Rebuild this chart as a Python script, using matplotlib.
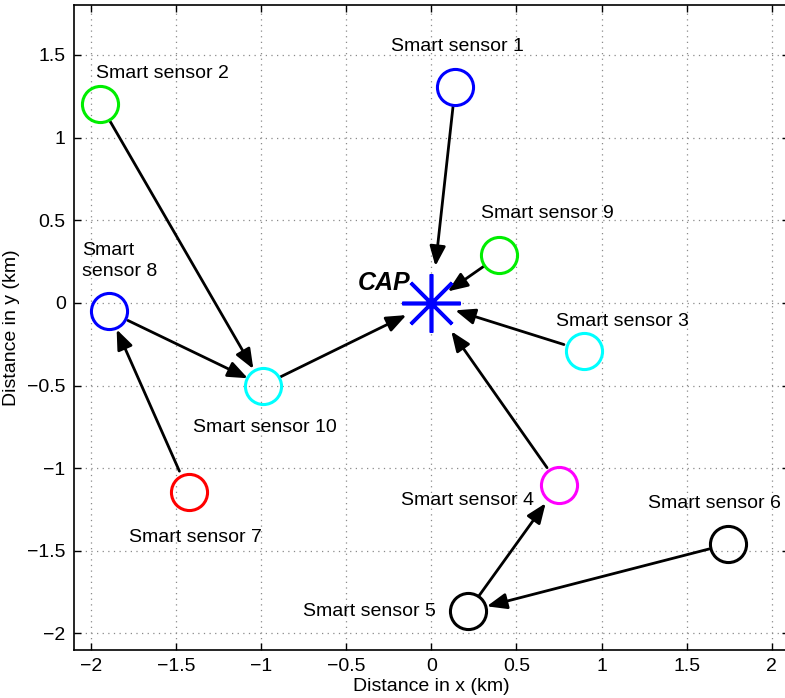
import matplotlib
matplotlib.use("Agg")
import matplotlib.pyplot as plt

# ---- data ----
sensor_names = ["Smart sensor 1", "Smart sensor 2", "Smart sensor 3", "Smart sensor 4",
                "Smart sensor 5", "Smart sensor 6", "Smart sensor 7", "Smart\nsensor 8",
                "Smart sensor 9", "Smart sensor 10"]
sensor_x = [0.14, -1.945, 0.896, 0.75, 0.215, 1.741, -1.426, -1.897, 0.40, -0.99]
sensor_y = [1.305, 1.20, -0.29, -1.10, -1.865, -1.46, -1.145, -0.05, 0.287, -0.50]
sensor_colors = ["#0000ff", "#00ee00", "#00ffff", "#ff00ff", "#000000",
                 "#000000", "#ff0000", "#0000ff", "#00ee00", "#00ffff"]
label_x = [-0.235, -1.97, 0.73, -0.176, -0.755, 1.274, -1.775, -2.053, 0.29, -1.398]
label_y = [1.55, 1.389, -0.11, -1.195, -1.868, -1.211, -1.419, 0.253, 0.54, -0.753]

cap_x, cap_y = 0.0, 0.0
cap_label = "CAP"
cap_label_pos = (-0.432, 0.118)

# links: (from sensor index, to index; 0 = CAP)
links_from = [1, 2, 9, 8, 10, 3, 4, 7, 5, 6]
links_to = [0, 10, 0, 10, 0, 0, 0, 8, 4, 5]
# shrink at start / end (points) - style
shrink_start = [14, 13, 13.4, 15.5, 13.3, 15, 15, 16.5, 13.4, 13.7]
shrink_end = [26.6, 13.7, 14.4, 12, 20, 18, 25, 14.4, 16.4, 14]

xticks = [-2, -1.5, -1, -0.5, 0, 0.5, 1, 1.5, 2]
xticklabels = ["\u22122", "\u22121.5", "\u22121", "\u22120.5", "0", "0.5", "1", "1.5", "2"]
yticks = [-2, -1.5, -1, -0.5, 0, 0.5, 1, 1.5]
yticklabels = ["\u22122", "\u22121.5", "\u22121", "\u22120.5", "0", "0.5", "1", "1.5"]

plt.rcParams['font.family'] = ['Liberation Sans', 'DejaVu Sans']

fig = plt.figure(figsize=(7.85, 6.98), dpi=100)
ax = fig.add_axes([74 / 785, 48 / 698, (788.7 - 74) / 785, (650 - 5.3) / 698])
ax.set_xlim(-2.1, 2.1)
ax.set_ylim(-2.1, 1.8)

ax.grid(True, color="#8a8a8a", linestyle=(0, (1, 3.5)), linewidth=0.9)
ax.set_axisbelow(True)

def pos(i):
    if i == 0:
        return (cap_x, cap_y)
    return (sensor_x[i - 1], sensor_y[i - 1])

for f, t, sa, sb in zip(links_from, links_to, shrink_start, shrink_end):
    ax.annotate("", xy=pos(t), xytext=pos(f), xycoords="data",
                arrowprops=dict(arrowstyle="-|>,head_length=0.6,head_width=0.24",
                                color="black", lw=2.0, shrinkA=sa, shrinkB=sb,
                                mutation_scale=20),
                zorder=3)

for x, y, c in zip(sensor_x, sensor_y, sensor_colors):
    ax.plot([x], [y], marker="o", markersize=26, mfc="none", mec=c, mew=2.2,
            linestyle="none", zorder=4)

ax.plot([cap_x], [cap_y], marker=(8, 2, 0), markersize=42, mec="#0000ff",
        mew=2.6, linestyle="none", zorder=5)

for name, lx, ly in zip(sensor_names, label_x, label_y):
    ax.text(lx, ly, name, fontsize=14, ha="left", va="center", linespacing=1.25,
            zorder=6)

ax.text(cap_label_pos[0], cap_label_pos[1], cap_label, fontsize=18,
        fontweight="bold", fontstyle="italic", ha="left", va="center", zorder=6)

ax.set_xticks(xticks)
ax.set_xticklabels(xticklabels)
ax.set_yticks(yticks)
ax.set_yticklabels(yticklabels)
ax.tick_params(direction="in", length=5, width=1, labelsize=14,
               top=True, right=True, pad=6)
for s in ax.spines.values():
    s.set_linewidth(1.2)

ax.set_xlabel("Distance in x (km)", fontsize=14, labelpad=2)
ax.set_ylabel("Distance in y (km)", fontsize=14, labelpad=5)

fig.savefig("out.png", dpi=100)
